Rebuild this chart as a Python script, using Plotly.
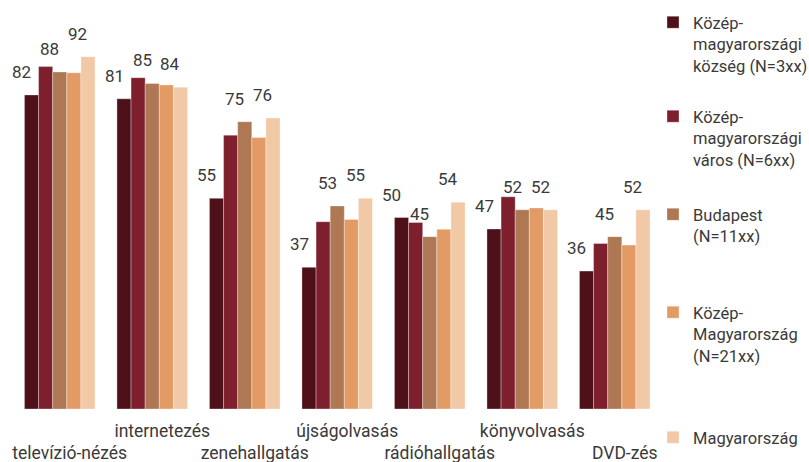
import plotly.graph_objects as go

categories = ["televízió-nézés", "internetezés", "zenehallgatás", "újságolvasás",
              "rádióhallgatás", "könyvolvasás", "DVD-zés"]

series_names = [
    "Közép-<br>magyarországi<br>község (N=3xx)",
    "Közép-<br>magyarországi<br>város (N=6xx)",
    "Budapest<br>(N=11xx)",
    "Közép-<br>Magyarország<br>(N=21xx)",
    "Magyarország",
]

kozseg = [82, 81, 55, 37, 50, 47, 36]
varos = [89.4, 86.5, 71.5, 48.9, 48.7, 55.4, 43.2]
budapest = [88, 85, 75, 53, 45, 52, 45]
kozep_mo = [87.8, 84.6, 70.9, 49.5, 46.9, 52.5, 42.8]
magyarorszag = [92, 84, 76, 55, 54, 52, 52]

series_values = [kozseg, varos, budapest, kozep_mo, magyarorszag]
labelled = [True, False, True, False, True]
colors = ["#4f1119", "#7e1f2d", "#ad7853", "#e39b66", "#f1c9a7"]

# legend item tops (px from top of the figure)
legend_tops = [5, 99, 197, 295, 420]

FONT = "Roboto"
TEXT_COLOR = "#3a3a3a"
BARGAP = 0.237
W, H = 809, 462
n_series = len(series_values)
bar_w = (1 - BARGAP) / n_series
legend_ids = ["legend"] + [f"legend{k}" for k in range(2, n_series + 1)]

fig = go.Figure()
for name, vals, col, lid in zip(series_names, series_values, colors, legend_ids):
    fig.add_trace(go.Bar(
        x=categories, y=vals, name=name, legend=lid,
        marker=dict(color=col, line=dict(color="rgba(255,255,255,0.55)", width=0.6)),
        hoverinfo="x+y",
    ))

ticktext = []
for i, c in enumerate(categories):
    ticktext.append(c if i % 2 == 1 else " <br>" + c)

annotations = []
for s, (vals, lab) in enumerate(zip(series_values, labelled)):
    if not lab:
        continue
    for i, v in enumerate(vals):
        annotations.append(dict(
            x=i + (s - (n_series - 1) / 2) * bar_w, y=v, xref="x", yref="y",
            text=f"{round(v)}", showarrow=False, xanchor="center", yanchor="bottom",
            xshift=-10, yshift=11,
            font=dict(family=FONT, size=17, color=TEXT_COLOR),
        ))

legend_layout = {}
for lid, top in zip(legend_ids, legend_tops):
    legend_layout[lid] = dict(
        xref="container", yref="container",
        x=653 / W, xanchor="left", y=1 - top / H, yanchor="top",
        font=dict(family=FONT, size=16.5, color=TEXT_COLOR),
        valign="top", bgcolor="rgba(0,0,0,0)",
    )

fig.update_layout(
    width=W, height=H,
    margin=dict(l=10, r=148, t=26, b=53, autoexpand=False),
    paper_bgcolor="white", plot_bgcolor="white",
    barmode="group", bargap=BARGAP, bargroupgap=0,
    font=dict(family=FONT, size=16, color=TEXT_COLOR),
    showlegend=True,
    xaxis=dict(
        type="category", tickmode="array", tickvals=categories, ticktext=ticktext,
        showgrid=False, showline=False, zeroline=False, ticks="",
        tickangle=0, automargin=False,
        tickfont=dict(family=FONT, size=17.5, color=TEXT_COLOR),
        ticklabelshift=10, ticklabelstandoff=9,
    ),
    yaxis=dict(range=[0, 100], visible=False, showgrid=False, zeroline=False),
    annotations=annotations,
    **legend_layout,
)

fig.write_html("out.html", config={"displayModeBar": False},
               post_script="document.body.style.margin='0';")
